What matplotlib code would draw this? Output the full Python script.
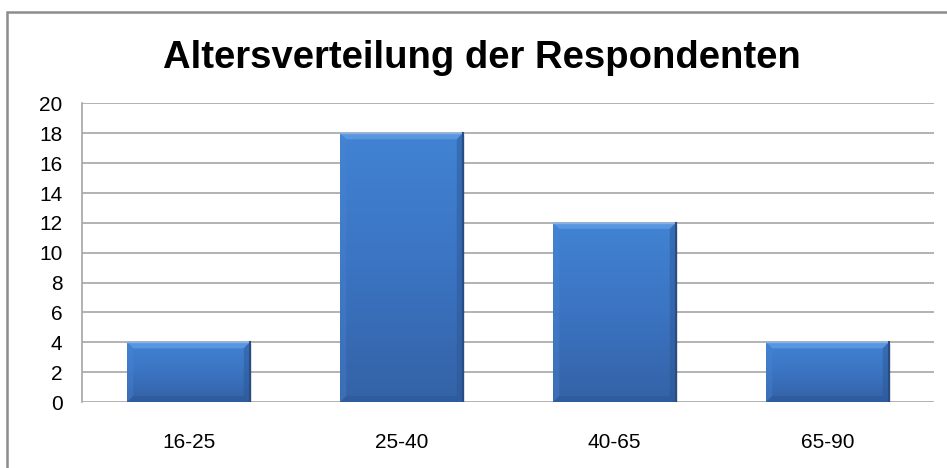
import numpy as np
import matplotlib.pyplot as plt
from matplotlib.patches import Polygon, Rectangle
from matplotlib.colors import LinearSegmentedColormap

# Daten
categories = ['16-25', '25-40', '40-65', '65-90']
counts = [4, 18, 12, 4]
y_ticks = list(range(0, 21, 2))
title = 'Altersverteilung der Respondenten'

plt.rcParams['font.family'] = ['Liberation Sans', 'DejaVu Sans']

fig = plt.figure(figsize=(9.47, 4.68), dpi=100)
ax = fig.add_axes([0.0866, 0.141, 0.8997, 0.638])

x = np.arange(len(categories))
bars = ax.bar(x, counts, width=0.575, color='none', edgecolor='none', zorder=3)
ax.set_xlim(-0.5, len(categories) - 0.5)
ax.set_ylim(0, 20)

# Excel-artiger Farbverlauf + Abschrägung
grad = LinearSegmentedColormap.from_list('excelblue', ['#3462a6', '#3b74c2', '#4183d3'])
px_x = len(categories) / (0.8997 * 947)   # Dateneinheiten pro Pixel (x)
px_y = 20 / (0.638 * 468)                 # Dateneinheiten pro Pixel (y)
bev = 6
for bar in bars:
    x0, y0 = bar.get_x(), bar.get_y()
    w, h = bar.get_width(), bar.get_height()
    x1, y1 = x0 + w, y0 + h
    # Schatten
    ax.add_patch(Rectangle((x0 + 2 * px_x, y0 - 2 * px_y), w, h, facecolor='#000000',
                           alpha=0.10, edgecolor='none', zorder=2))
    img = ax.imshow(np.linspace(0, 1, 256).reshape(-1, 1), cmap=grad, origin='lower',
                    extent=(x0, x1, y0, y1), aspect='auto', zorder=3)
    img.set_clip_path(bar)
    dx, dy = bev * px_x, bev * px_y
    # oben hell
    ax.add_patch(Polygon([(x0, y1), (x1, y1), (x1 - dx, y1 - dy), (x0 + dx, y1 - dy)],
                         closed=True, facecolor='#5a96e0', edgecolor='none', zorder=4))
    # links
    ax.add_patch(Polygon([(x0, y0), (x0, y1), (x0 + dx, y1 - dy), (x0 + dx, y0 + dy)],
                         closed=True, facecolor='#4a86d2', edgecolor='none', alpha=0.35, zorder=4))
    # rechts dunkel
    ax.add_patch(Polygon([(x1, y0), (x1, y1), (x1 - dx, y1 - dy), (x1 - dx, y0 + dy)],
                         closed=True, facecolor='#2c5592', edgecolor='none', alpha=0.45, zorder=4))
    # unten dunkel
    ax.add_patch(Polygon([(x0, y0), (x1, y0), (x1 - dx, y0 + dy), (x0 + dx, y0 + dy)],
                         closed=True, facecolor='#2d5899', edgecolor='none', alpha=0.6, zorder=4))
    ax.plot([x0, x1], [y1, y1], color='#7fb2ec', lw=1, zorder=5)
    ax.plot([x1, x1], [y0, y1], color='#274d84', lw=1.5, zorder=5)

ax.set_xticks(x)
ax.set_xticklabels(categories, fontsize=15)
ax.set_yticks(y_ticks)
ax.tick_params(axis='y', length=0, pad=14, labelsize=15)
ax.tick_params(axis='x', length=0, pad=22)
ax.yaxis.grid(True, color='#a6a6a6', lw=1.2)
ax.set_axisbelow(True)
for s in ['top', 'right', 'bottom']:
    ax.spines[s].set_visible(False)
ax.spines['left'].set_color('#a6a6a6')
ax.spines['left'].set_linewidth(1.2)

fig.text(0.509, 0.877, title, ha='center', va='center', fontsize=27.5, fontweight='bold')

# Rahmen um das Diagramm
fig.add_artist(Rectangle((7 / 947, -0.05), 1.2, 1.05 - 12 / 468, transform=fig.transFigure,
                         fill=False, edgecolor='#8c8c8c', lw=1.8))

fig.savefig('out.png', dpi=100)
